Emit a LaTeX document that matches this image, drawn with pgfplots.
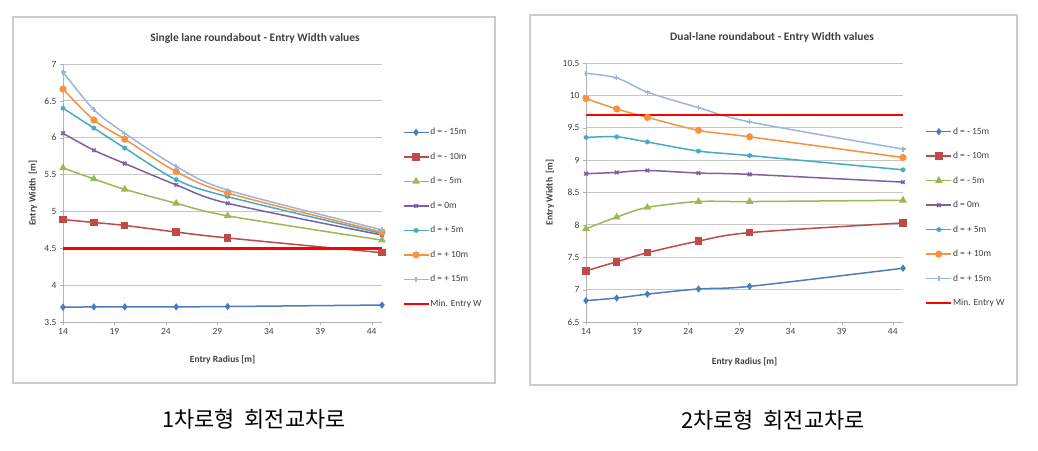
\documentclass[border=0pt]{standalone}
\usepackage{fontspec}
\setmainfont{Carlito}
\newfontfamily\kr{Noto Sans CJK KR}
\usepackage{pgfplots}
\pgfplotsset{compat=1.18}

\definecolor{s1}{HTML}{4A7EBB}
\definecolor{s2}{HTML}{BE4B48}
\definecolor{s3}{HTML}{98B954}
\definecolor{s4}{HTML}{7D60A0}
\definecolor{s5}{HTML}{46AAC5}
\definecolor{s6}{HTML}{F69240}
\definecolor{s7}{HTML}{9CB5DC}
\definecolor{minw}{HTML}{FF0000}
\definecolor{txt}{HTML}{404040}

\pgfplotsset{
  ew/.style={
    scale only axis, anchor=south west,
    xmin=14, xmax=45, xtick={14,19,...,44},
    axis x line*=bottom, axis y line*=left,
    axis line style={gray!60},
    ymajorgrids, grid style={gray!45, line width=0.8bp},
    tick style={gray!60}, tick align=outside, major tick length=3bp,
    /pgf/number format/assume math mode=true,
    tick label style={font=\fontsize{9.5}{10}\selectfont, text=txt},
    label style={font=\bfseries\fontsize{9.5}{10}\selectfont, text=txt},
    legend cell align=left,
    legend style={draw=none, fill=none, inner sep=0pt, anchor=north west,
      font=\fontsize{9.5}{10}\selectfont, text=txt, row sep=14.5bp,
      column sep=0pt,
      nodes={text height=7bp, text depth=2bp, inner sep=0.5bp}},
    legend image code/.code={\draw[mark repeat=2,mark phase=2,##1]
      plot coordinates {(0bp,0bp)(12.5bp,0bp)(25bp,0bp)};},
    every axis plot/.append style={line width=1.5bp, smooth},
  },
  p1/.style={s1, mark=diamond*, mark size=2.5bp, mark options={solid}},
  p2/.style={s2, mark=square*, mark size=3bp},
  p3/.style={s3, mark=triangle*, mark size=3bp},
  p4/.style={s4, mark=x, mark size=2.5bp},
  p5/.style={s5, mark=asterisk, mark size=2.5bp},
  p6/.style={s6, mark=*, mark size=2.8bp},
  p7/.style={s7, mark=+, mark size=2.5bp},
  pm/.style={minw, line width=2.5bp},
}

\begin{document}
\begin{tikzpicture}[x=1bp,y=1bp]
\path[fill=white] (0,0) rectangle (1038,451);
\draw[gray!40, line width=1.5bp] (13,68) rectangle (495,434);
\draw[gray!40, line width=1.5bp] (530,66) rectangle (1017,436);

\node[font=\bfseries\fontsize{11.5}{12}\selectfont, text=txt] at (255,413) {Single lane roundabout - Entry Width values};
\node[font=\bfseries\fontsize{11.5}{12}\selectfont, text=txt] at (772,414) {Dual-lane roundabout - Entry Width values};

\begin{axis}[ew, at={(63bp,129bp)}, width=319bp, height=258bp,
  ymin=3.5, ymax=7, ytick={3.5,4,...,7},
  xlabel={Entry Radius [m]}, ylabel={Entry Width\ \ [m]},
  xlabel style={at={(axis description cs:0.5,-0.147)}, anchor=center},
  ylabel style={at={(axis description cs:-0.094,0.5)}, anchor=center},
  legend style={at={(1.063,0.755)}}]
\addplot[p1] coordinates {(14,3.70) (17,3.705) (20,3.705) (25,3.705) (30,3.71) (45,3.73)};
\addplot[p2] coordinates {(14,4.89) (17,4.85) (20,4.81) (25,4.72) (30,4.64) (45,4.44)};
\addplot[p3] coordinates {(14,5.59) (17,5.44) (20,5.30) (25,5.11) (30,4.94) (45,4.61)};
\addplot[p4] coordinates {(14,6.06) (17,5.83) (20,5.65) (25,5.36) (30,5.11) (45,4.68)};
\addplot[p5] coordinates {(14,6.40) (17,6.13) (20,5.86) (25,5.43) (30,5.20) (45,4.70)};
\addplot[p6] coordinates {(14,6.66) (17,6.24) (20,5.98) (25,5.54) (30,5.25) (45,4.72)};
\addplot[p7] coordinates {(14,6.89) (17,6.38) (20,6.06) (25,5.61) (30,5.29) (45,4.75)};
\addplot[pm] coordinates {(14,4.5) (45,4.5)};
\legend{d = - 15m, d = - 10m, d = - 5m, d = 0m, d = + 5m, d = + 10m, d = + 15m, Min. Entry W}
\end{axis}

\begin{axis}[ew, at={(586bp,129bp)}, width=317bp, height=259bp,
  ymin=6.5, ymax=10.5, ytick={6.5,7,...,10.5},
  xlabel={Entry Radius [m]}, ylabel={Entry Width\ \ [m]},
  xlabel style={at={(axis description cs:0.5,-0.154)}, anchor=center},
  ylabel style={at={(axis description cs:-0.114,0.5)}, anchor=center},
  legend style={at={(1.069,0.755)}}]
\addplot[p1] coordinates {(14,6.83) (17,6.87) (20,6.93) (25,7.01) (30,7.05) (45,7.33)};
\addplot[p2] coordinates {(14,7.29) (17,7.43) (20,7.57) (25,7.75) (30,7.88) (45,8.03)};
\addplot[p3] coordinates {(14,7.94) (17,8.12) (20,8.27) (25,8.36) (30,8.36) (45,8.38)};
\addplot[p4] coordinates {(14,8.79) (17,8.81) (20,8.84) (25,8.80) (30,8.78) (45,8.66)};
\addplot[p5] coordinates {(14,9.35) (17,9.36) (20,9.28) (25,9.14) (30,9.07) (45,8.85)};
\addplot[p6] coordinates {(14,9.95) (17,9.79) (20,9.66) (25,9.46) (30,9.36) (45,9.04)};
\addplot[p7] coordinates {(14,10.34) (17,10.27) (20,10.05) (25,9.81) (30,9.59) (45,9.17)};
\addplot[pm] coordinates {(14,9.7) (45,9.7)};
\legend{d = - 15m, d = - 10m, d = - 5m, d = 0m, d = + 5m, d = + 10m, d = + 15m, Min. Entry W}
\end{axis}

\node[font=\kr\fontsize{22}{24}\selectfont] at (254,32) {1차로형\ \ 회전교차로};
\node[font=\kr\fontsize{22}{24}\selectfont] at (773,31) {2차로형\ \ 회전교차로};
\end{tikzpicture}
\end{document}
